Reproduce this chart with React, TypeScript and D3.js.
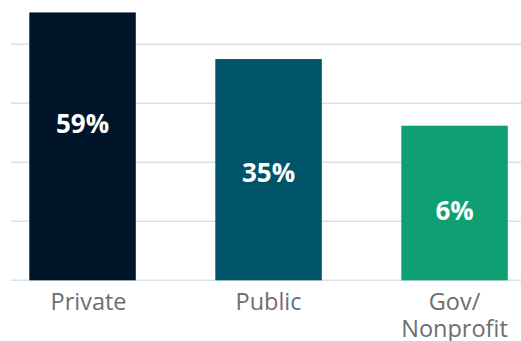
import React from "react";
import * as d3 from "d3";

const categories = ["Private", "Public", "Gov/\nNonprofit"];
const valueLabels = ["59%", "35%", "6%"];
// bar heights read in gridline units (each gridline = 1 unit)
const barValues = [4.54, 3.75, 2.62];
// vertical level of the value labels, in the same units
const labelLevels = [2.66, 1.84, 1.2];
const gridTicks = [0, 1, 2, 3, 4];
const colors = ["#00142a", "#005467", "#0ea073"];

const W = 521;
const H = 341;

export default function App() {
  const x = d3.scaleBand<string>().domain(categories).range([-7.9, 545]).paddingInner(0.4274).paddingOuter(0.2);
  const y = d3.scaleLinear().domain([0, 4]).range([280.3, 44.3]);
  const font = "'Open Sans', sans-serif";
  return (
    <svg width={W} height={H} style={{ position: "absolute", left: 0, top: 0 }}>
      {gridTicks.map((t) => (
        <line key={t} x1={11} x2={W} y1={y(t)} y2={y(t)} stroke="#d5e2e7" strokeWidth={1.5} />
      ))}
      {categories.map((c, i) => {
        const bx = x(c)!;
        const bw = x.bandwidth();
        const lines = c.split("\n");
        return (
          <g key={c}>
            <rect x={bx} y={y(barValues[i])} width={bw} height={y(0) - y(barValues[i])} fill={colors[i]} />
            <text
              x={bx + bw / 2}
              y={y(labelLevels[i])}
              textAnchor="middle"
              dominantBaseline="central"
              fill="#ffffff"
              fontFamily={font}
              fontWeight={700}
              fontSize={26}
            >
              {valueLabels[i]}
            </text>
            {lines.map((ln, j) => (
              <text
                key={j}
                x={bx + bw / 2 + (i === 0 ? 6 : 0)}
                y={310 + j * 27}
                textAnchor="middle"
                fill="#6d6e71"
                fontFamily={font}
                fontSize={23.5}
              >
                {ln}
              </text>
            ))}
          </g>
        );
      })}
    </svg>
  );
}
